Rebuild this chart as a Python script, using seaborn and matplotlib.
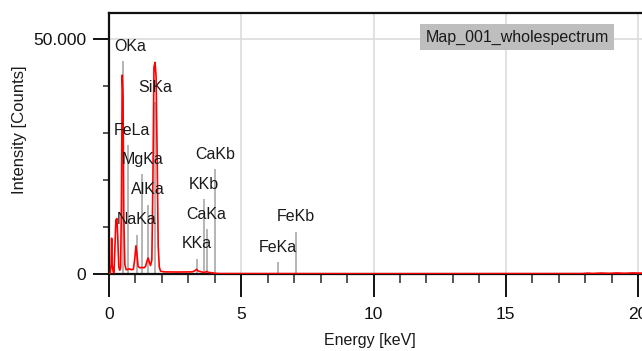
import matplotlib
matplotlib.use("Agg")
import matplotlib.pyplot as plt
from matplotlib.ticker import MultipleLocator, FixedLocator, FuncFormatter
import seaborn as sns
import pandas as pd

# ---- data ----
energy_kev = [0.00, 0.05, 0.08, 0.10, 0.12, 0.16, 0.19, 0.22, 0.26, 0.30, 0.33, 0.37,
              0.41, 0.44, 0.47, 0.50, 0.53, 0.56, 0.60, 0.65, 0.72, 0.78, 0.85, 0.92,
              0.97, 1.02, 1.06, 1.10, 1.18, 1.25, 1.32, 1.38, 1.44, 1.48, 1.52, 1.57,
              1.62, 1.66, 1.70, 1.74, 1.78, 1.82, 1.86, 1.90, 1.95, 2.10, 2.60, 3.15,
              3.25, 3.31, 3.37, 3.50, 3.60, 3.69, 3.76, 3.90, 4.00, 4.20, 10.0, 17.9,
              18.1, 18.3, 18.6, 18.9, 19.2, 19.5, 19.8, 20.1, 20.15]
counts = [0, 300, 2000, 7600, 2000, 400, 300, 5000, 11500, 11800, 8000, 1500,
          800, 1500, 15000, 42300, 38000, 12000, 2000, 900, 1000, 1100, 900, 1000,
          3000, 6000, 4000, 1600, 1300, 1400, 1300, 1600, 2800, 3400, 2600, 1800,
          3000, 20000, 44000, 45000, 42000, 25000, 6000, 1500, 600, 450, 420, 450,
          700, 1000, 650, 450, 300, 550, 350, 250, 150, 80, 60, 80,
          180, 100, 200, 130, 220, 140, 230, 170, 200]

line_names = ["OKa", "FeLa", "NaKa", "MgKa", "AlKa", "SiKa",
              "KKa", "KKb", "CaKa", "CaKb", "FeKa", "FeKb"]
line_energy = [0.525, 0.705, 1.041, 1.253, 1.486, 1.739,
               3.312, 3.589, 3.690, 4.012, 6.398, 7.057]
line_height = [45200, 27400, 8300, 21200, 14700, 36500,
               3200, 15900, 9500, 22300, 2500, 9000]
label_dx_pt = [5, 3, 0, 0, 0, 0, 0, 0, 0, 0, 0, 0]

x_ticks = [0, 5, 10, 15, 20]
y_ticks = [0, 50000]
spectrum_name = "Map_001_wholespectrum"

# ---- styling ----
sns.set_style("ticks")
fam = ["Liberation Sans", "DejaVu Sans"]
plt.rcParams["font.family"] = fam

fig = plt.figure(figsize=(6.42, 3.51), dpi=100)
ax = fig.add_axes([109 / 642, 1 - 274 / 351, 533 / 642, 261 / 351])

# marker lines
for e, h in zip(line_energy, line_height):
    ax.vlines(e, 0, h, color="#b4b4b4", lw=1.4, zorder=1.5)

df = pd.DataFrame({"Energy": energy_kev, "Counts": counts})
sns.lineplot(data=df, x="Energy", y="Counts", color="#ff0000", lw=1.2,
             ax=ax, zorder=3, sort=True)

for name, e, h, dx in zip(line_names, line_energy, line_height, label_dx_pt):
    ax.annotate(name, xy=(e, h), xytext=(dx, 10.8), textcoords="offset points",
                ha="center", va="center", fontsize=11.5, color="#1a1a1a",
                family=fam, zorder=4)

ax.set_xlim(0, 20.15)
ax.set_ylim(0, 55500)

ax.xaxis.set_major_locator(FixedLocator(x_ticks))
ax.xaxis.set_minor_locator(MultipleLocator(1))
ax.yaxis.set_major_locator(FixedLocator(y_ticks))
ax.yaxis.set_minor_locator(MultipleLocator(10000))
ax.yaxis.set_major_formatter(FuncFormatter(lambda v, p: f"{int(v):,}".replace(",", ".")))

ax.grid(True, which="major", color="#dcdcdc", lw=1.2, zorder=0)
ax.set_axisbelow(True)

ax.tick_params(axis="x", which="major", direction="out", length=16.5, width=1.4,
               color="#111111", pad=7, labelsize=12.5, labelcolor="#111111",
               bottom=True)
ax.tick_params(axis="x", which="minor", direction="out", length=6.5, width=1.4,
               color="#555555", bottom=True)
ax.tick_params(axis="y", which="major", direction="out", length=11.5, width=1.4,
               color="#111111", pad=5, labelsize=12.5, labelcolor="#111111",
               left=True)
ax.tick_params(axis="y", which="minor", direction="out", length=4.5, width=1.4,
               color="#555555", left=True)

for s in ["left", "top", "bottom"]:
    ax.spines[s].set_visible(True)
    ax.spines[s].set_color("#111111")
    ax.spines[s].set_linewidth(1.6)
ax.spines["right"].set_visible(False)

ax.set_xlabel("Energy [keV]", fontsize=11.5, color="#1a1a1a", family=fam)
ax.set_ylabel("Intensity [Counts]", fontsize=12, color="#1a1a1a", family=fam)
ax.xaxis.set_label_coords((370 - 109) / 533, (274 - 341) / 261)
ax.yaxis.set_label_coords((20 - 109) / 533, (274 - 130) / 261)
ax.xaxis.label.set_va("center")
ax.yaxis.label.set_va("center")

ax.text((517 - 109) / 533, (274 - 37) / 261, spectrum_name, transform=ax.transAxes,
        ha="center", va="center", fontsize=11.5, color="#1a1a1a", family=fam,
        bbox=dict(boxstyle="square,pad=0.35", facecolor="#bebebe", edgecolor="none"),
        zorder=5)

fig.savefig("out.png", dpi=100)
